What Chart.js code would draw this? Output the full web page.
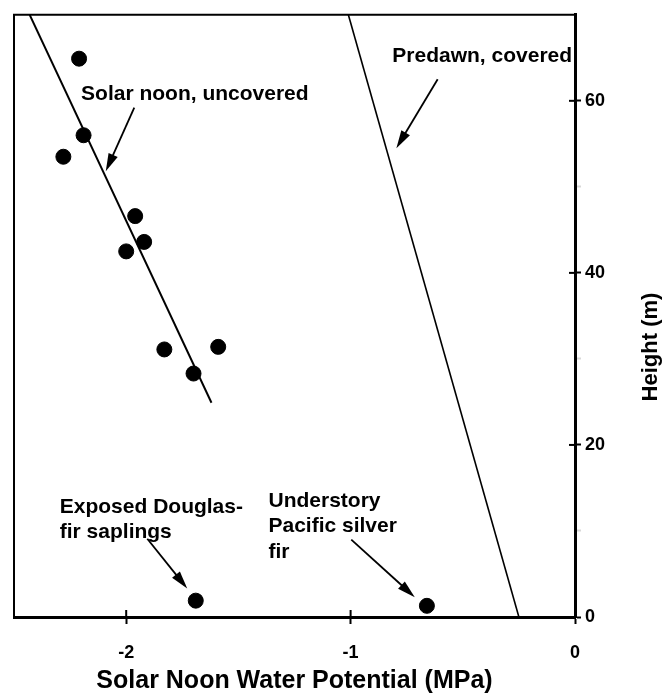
<!DOCTYPE html>
<html>
<head>
<meta charset="utf-8">
<script src="https://cdn.jsdelivr.net/npm/chart.js@4"></script>
<style>
  html, body { margin: 0; padding: 0; background: #fff; }
</style>
</head>
<body>
<canvas id="chart" width="672" height="696"></canvas>
<script>
const xTicks = [-2, -1, 0];
const yLabels = [0, 20, 40, 60];

// solar noon, uncovered (canopy)
const noonX = [-2.21, -2.19, -2.28, -1.96, -1.92, -2.00, -1.83, -1.59, -1.70];
const noonY = [64.9, 56.0, 53.5, 46.6, 43.6, 42.5, 31.1, 31.4, 28.3];
// saplings / understory
const lowX = [-1.69, -0.66];
const lowY = [1.9, 1.3];
// fitted lines
const fitX = [-2.43, -1.62];
const fitY = [70, 24.9];
const predawnX = [-1.01, -0.25];
const predawnY = [70, 0];

// annotation text (data units) and arrows
const notes = [
  { lines: ["Solar noon, uncovered"], x: -2.201, y: 60.1, from: [-1.964, 59.2], to: [-2.091, 51.8] },
  { lines: ["Predawn, covered"], x: -0.814, y: 64.5, from: [-0.612, 62.5], to: [-0.796, 54.5] },
  { lines: ["Exposed Douglas-", "fir saplings"], x: -2.296, y: 12.1, from: [-1.906, 9.1], to: [-1.728, 3.3] },
  { lines: ["Understory", "Pacific silver", "fir"], x: -1.366, y: 12.8, from: [-0.997, 9.0], to: [-0.714, 2.3] }
];

const FONT = "'Liberation Sans', Arial, Helvetica, sans-serif";
const pts = (xs, ys) => xs.map((x, i) => ({ x: x, y: ys[i] }));

function arrow(ctx, x1, y1, x2, y2) {
  const a = Math.atan2(y2 - y1, x2 - x1);
  const len = 18, w = 5;
  ctx.beginPath();
  ctx.moveTo(x1, y1);
  ctx.lineTo(x2 - Math.cos(a) * len * 0.8, y2 - Math.sin(a) * len * 0.8);
  ctx.stroke();
  ctx.beginPath();
  ctx.moveTo(x2, y2);
  ctx.lineTo(x2 - Math.cos(a) * len - Math.sin(a) * w, y2 - Math.sin(a) * len + Math.cos(a) * w);
  ctx.lineTo(x2 - Math.cos(a) * len + Math.sin(a) * w, y2 - Math.sin(a) * len - Math.cos(a) * w);
  ctx.closePath();
  ctx.fill();
}

const extras = {
  id: "extras",
  afterDraw(chart) {
    const ctx = chart.ctx, a = chart.chartArea;
    const xs = chart.scales.x, ys = chart.scales.y;
    ctx.save();
    ctx.strokeStyle = "#000";
    ctx.fillStyle = "#000";
    // left and top frame
    ctx.lineWidth = 2;
    ctx.beginPath();
    ctx.moveTo(a.left, a.bottom);
    ctx.lineTo(a.left, a.top);
    ctx.lineTo(a.right, a.top);
    ctx.stroke();
    // inner halves of the major ticks
    yLabels.forEach(v => {
      const py = ys.getPixelForValue(v);
      ctx.beginPath(); ctx.moveTo(a.right - 6, py); ctx.lineTo(a.right, py); ctx.stroke();
    });
    xTicks.slice(0, 2).forEach(v => {
      const px = xs.getPixelForValue(v);
      ctx.beginPath(); ctx.moveTo(px, a.bottom - 7); ctx.lineTo(px, a.bottom); ctx.stroke();
    });
    // notes
    ctx.font = "bold 21px " + FONT;
    ctx.textBaseline = "alphabetic";
    ctx.textAlign = "left";
    notes.forEach(n => {
      const px = xs.getPixelForValue(n.x), py = ys.getPixelForValue(n.y);
      n.lines.forEach((t, i) => ctx.fillText(t, px, py + i * 25.5));
      ctx.lineWidth = 1.8;
      arrow(ctx, xs.getPixelForValue(n.from[0]), ys.getPixelForValue(n.from[1]),
                 xs.getPixelForValue(n.to[0]), ys.getPixelForValue(n.to[1]));
    });
    // right-hand axis title, reading upwards
    ctx.translate(651, 347);
    ctx.rotate(-Math.PI / 2);
    ctx.textAlign = "center";
    ctx.textBaseline = "middle";
    ctx.font = "bold 22px " + FONT;
    ctx.fillText("Height (m)", 0, 0);
    ctx.restore();
  }
};

new Chart(document.getElementById("chart"), {
  type: "scatter",
  data: {
    datasets: [
      { data: pts(noonX, noonY), backgroundColor: "#000", borderColor: "#000", pointRadius: 7.5, pointHoverRadius: 7.5 },
      { data: pts(lowX, lowY), backgroundColor: "#000", borderColor: "#000", pointRadius: 7.5, pointHoverRadius: 7.5 },
      { data: pts(fitX, fitY), showLine: true, borderColor: "#000", borderWidth: 2, pointRadius: 0 },
      { data: pts(predawnX, predawnY), showLine: true, borderColor: "#000", borderWidth: 1.6, pointRadius: 0 }
    ]
  },
  options: {
    responsive: false,
    animation: false,
    devicePixelRatio: 1,
    layout: { padding: { left: 14, top: 11, right: 0, bottom: 0 } },
    plugins: { legend: { display: false }, tooltip: { enabled: false } },
    scales: {
      x: {
        type: "linear",
        min: -2.5,
        max: 0,
        afterBuildTicks: s => { s.ticks = xTicks.map(v => ({ value: v })); },
        afterFit: s => { s.height = 79; },
        border: { display: true, color: "#000", width: 3 },
        grid: { drawOnChartArea: false, drawTicks: true, tickLength: 7, tickWidth: 2, tickColor: "#000" },
        ticks: { color: "#000", padding: 18, font: { family: FONT, size: 18, weight: "bold" } },
        title: {
          display: true,
          text: "Solar Noon Water Potential (MPa)",
          color: "#000",
          padding: { top: 0, bottom: 0 },
          font: { family: FONT, size: 25, weight: "bold" }
        }
      },
      y: {
        type: "linear",
        position: "right",
        min: 0,
        max: 70,
        afterBuildTicks: s => { s.ticks = [0, 10, 20, 30, 40, 50, 60].map(v => ({ value: v })); },
        afterFit: s => { s.width = 97; },
        border: { display: true, color: "#000", width: 3 },
        grid: {
          drawOnChartArea: false,
          drawTicks: true,
          tickLength: 6,
          tickWidth: 2,
          tickColor: c => (c.tick && c.tick.value % 20 === 0) ? "#000" : "#d8d8d8"
        },
        ticks: {
          color: "#000",
          padding: 4,
          font: { family: FONT, size: 18, weight: "bold" },
          callback: v => yLabels.includes(v) ? String(v) : ""
        }
      }
    }
  },
  plugins: [extras]
});
</script>
</body>
</html>
